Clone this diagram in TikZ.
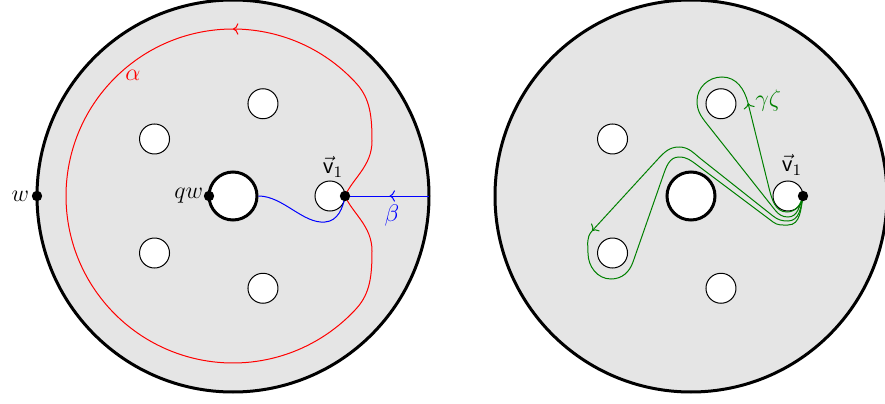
\documentclass[tikz,border=0pt]{standalone}
\usetikzlibrary{decorations.markings,arrows.meta}
\tikzset{
  disk/.style={fill=black!10, draw=black, line width=1.5pt},
  hole/.style={circle, fill=white, draw=black, line width=0.5pt, minimum size=15pt, inner sep=0pt},
  bighole/.style={circle, fill=white, draw=black, line width=1.5pt, minimum size=24pt, inner sep=0pt},
  pt/.style={circle, fill=black, inner sep=0pt, minimum size=5.2pt},
  lab/.style={font=\fontsize{11.5}{14}\selectfont, inner sep=1pt},
  curve/.style={line width=0.5pt},
  acol/.style={curve, draw=red},
  bcol/.style={curve, draw=blue},
  gcol/.style={curve, draw=green!50!black},
  midarrow/.style={postaction={decorate}, decoration={markings, mark=at position #1 with {\arrow{>}}}},
}
\begin{document}
\begin{tikzpicture}[x=0.5pt,y=0.5pt]
\useasboundingbox (0,0) rectangle (885,403);
% ---------------- left disk ----------------
\begin{scope}[shift={(233,207)}]
  \draw[disk] (0,0) circle (196);
  \node[bighole] (LB) at (0,0) {};
  \foreach \a/\n in {0/L0,72/L1,144/L2,216/L3,288/L4}
    \node[hole] (\n) at (\a:97) {};
  \coordinate (v) at (112,0);
  \coordinate (Lo) at (196,0);
  \coordinate (qwp) at (-24,0);
  \coordinate (wp) at (-196,0);
  % alpha
  \draw[acol] (v) .. controls (120,18) and (139,30) .. (139,55)
     .. controls (139,80) and (137,97) .. (42:167);
  \draw[acol, midarrow=0.174] (42:167) arc[start angle=42, end angle=318, radius=167];
  \draw[acol] (318:167) .. controls (137,-97) and (139,-80) .. (139,-55)
     .. controls (139,-30) and (120,-18) .. (v);
  % beta
  \draw[bcol, midarrow=0.47] (Lo) -- (v);
  \draw[bcol] (LB.east) .. controls (50,0) and (70,-28) .. (92,-26)
     .. controls (105,-25) and (110,-12) .. (v);
  % points
  \node[pt] (vd) at (v) {};
  \node[pt] (qwd) at (qwp) {};
  \node[pt] (wd) at (wp) {};
  \node[lab, anchor=east] (wl) at (wd.west) {$w$};
  \node[lab, anchor=east, inner sep=0pt] (qwl) at (qwd.west) {$qw$};
  \node[lab] (vl) at (100,29) {$\vec{\mathsf{v}}_1$};
  \node[lab, text=red] (al) at (-100,121) {$\alpha$};
  \node[lab, text=blue] (bl) at (159,-19) {$\beta$};
\end{scope}
% ---------------- right disk ----------------
\begin{scope}[shift={(691,207)}]
  \draw[disk] (0,0) circle (196);
  \node[bighole] (RB) at (0,0) {};
  \foreach \a/\n in {0/R0,72/R1,144/R2,216/R3,288/R4}
    \node[hole] (\n) at (\a:97) {};
  \coordinate (rv) at (112,0);
  \coordinate (g1) at (57,93);
  \coordinate (g2) at (-99,-35);
  % loop around upper hole
  \draw[gcol, ->] (rv) to[out=-105, in=0] (96,-16) to[out=180, in=-76] (78,8) -- (g1);
  \draw[gcol] (g1) to[out=104, in=0] (31,119) to[out=180, in=90] (6,95)
     to[out=-90, in=128.4] (16,72) -- (84,-14) to[out=-51.6, in=180] (97,-21)
     to[out=0, in=-110] (rv);
  % loop around lower-left hole
  \draw[gcol, ->] (rv) to[out=-100, in=0] (97,-25) to[out=180, in=-38.6] (82,-20)
     -- (10,37) to[out=141.4, in=0] (-12,49) to[out=180, in=47.4] (-33,37) -- (g2);
  \draw[gcol] (g2) to[out=-132.6, in=90] (-103,-57) to[out=-90, in=180] (-80,-83)
     to[out=0, in=-109.3] (-58,-66) -- (-28,20) to[out=70.7, in=180] (-12,39)
     to[out=0, in=143] (6,31) -- (82,-26) to[out=-37, in=180] (97,-29)
     to[out=0, in=-100] (rv);
  \node[pt] (rvd) at (rv) {};
  \node[lab] (rvl) at (101,31) {$\vec{\mathsf{v}}_1$};
  \node[lab, text=green!50!black, anchor=west] (gl) at (62,96) {$\gamma\zeta$};
\end{scope}
\end{tikzpicture}
\end{document}
